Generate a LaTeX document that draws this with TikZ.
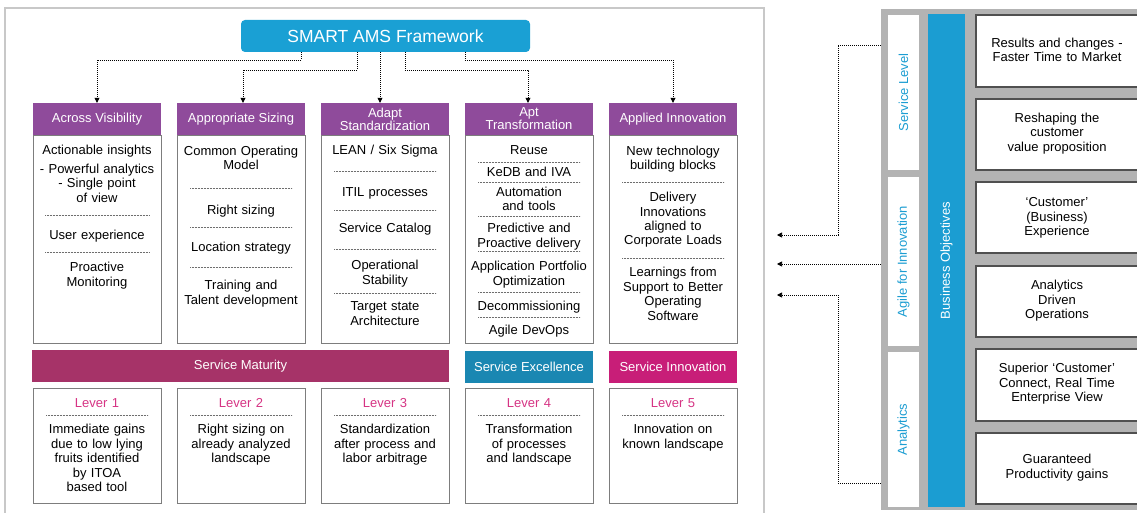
\documentclass[tikz,border=0pt]{standalone}
\usepackage{fontspec}
\setmainfont{Liberation Sans}
\usetikzlibrary{arrows.meta}
\definecolor{titleblue}{RGB}{26,160,212}
\definecolor{purp}{RGB}{143,75,155}
\definecolor{matur}{RGB}{166,51,104}
\definecolor{excel}{RGB}{26,135,178}
\definecolor{innov}{RGB}{200,30,120}
\definecolor{levercol}{RGB}{214,52,132}
\definecolor{panelgray}{RGB}{179,179,179}
\definecolor{objblue}{RGB}{27,157,210}
\definecolor{boxgray}{RGB}{125,125,125}
\definecolor{darkbox}{RGB}{80,80,80}
\definecolor{framegray}{RGB}{200,200,200}
\definecolor{sepgray}{RGB}{110,110,110}
\newcommand\fbody{\fontsize{13}{14.5}\selectfont}
\newcommand\ftitle{\fontsize{17.5}{20}\selectfont}
\begin{document}
\begin{tikzpicture}[x=1pt,y=-1pt,
  colbody/.style={draw=boxgray, line width=0.8pt, fill=white, inner sep=0, minimum width=128pt, minimum height=208pt},
  colhead/.style={fill=purp, text=white, font=\fbody, inner sep=0, minimum width=128pt, minimum height=32pt, align=center},
  bar/.style={text=white, font=\fbody, inner sep=0, minimum height=32pt},
  leverbox/.style={draw=boxgray, line width=0.8pt, fill=white, inner sep=0, minimum width=128pt, minimum height=115pt},
  txt/.style={anchor=base, text width=150pt, align=center, inner sep=0, font=\fbody},
  levertitle/.style={txt, text=levercol},
  sep/.style={draw=sepgray, line width=0.7pt, dash pattern=on 0.7pt off 0.8pt},
  conn/.style={line width=0.7pt, dash pattern=on 1pt off 1pt, -{Triangle[length=5pt,width=5pt]}},
  rbox/.style={draw=darkbox, line width=1.2pt, fill=white, inner sep=0, minimum width=169pt},
  sidelabel/.style={fill=white, inner sep=0, minimum width=31pt},
  rotlabel/.style={rotate=90, text=objblue, font=\fbody, inner sep=0}
]
\useasboundingbox (0,0) rectangle (1137,513);
\fill[white] (0,0) rectangle (1137,513);
% left frame
\draw[framegray, line width=1.5pt] (5,530) -- (5,8) -- (764,8) -- (764,530);

% title
\node[fill=titleblue, rounded corners=4pt, minimum width=289pt, minimum height=32pt, inner sep=0, text=white, font=\ftitle] (title) at (385.5,36) {SMART AMS Framework};

% column bodies and headers
\node[colbody] (b1) at (97,239) {};
\node[colbody] (b2) at (241,239) {};
\node[colbody] (b3) at (385,239) {};
\node[colbody] (b4) at (529,239) {};
\node[colbody] (b5) at (673,239) {};
\node[colhead] (h1) at (97,119) {Across Visibility};
\node[colhead] (h2) at (241,119) {Appropriate Sizing};
\node[colhead] (h3) at (385,119) {Adapt\\[-1.5pt]Standardization};
\node[colhead] (h4) at (529,119) {Apt\\[-1.5pt]Transformation};
\node[colhead] (h5) at (673,119) {Applied Innovation};

% connectors from title
\draw[conn] ([xshift=-84.5pt]title.south) -- ++(0,8) -| (h1.north);
\draw[conn] ([xshift=-28.5pt]title.south) -- ++(0,18) -| ([xshift=2pt]h2.north);
\draw[conn] ([xshift=-5.5pt]title.south) -- ([xshift=-5.5pt]title.south |- h3.north);
\draw[conn] ([xshift=19.5pt]title.south) -- ++(0,18) -| ([xshift=-1pt]h4.north);
\draw[conn] ([xshift=79.5pt]title.south) -- ++(0,8) -| (h5.north);

% column 1 text
\node[txt] (t11) at (97,154.5) {Actionable insights};
\node[txt] (t12) at (97,173.5) {- Powerful analytics\\- Single point\\of view};
\draw[sep] (45,215) -- (149,215);
\node[txt] (t13) at (97,239.5) {User experience};
\draw[sep] (45,252) -- (149,252);
\node[txt] (t14) at (97,271.5) {Proactive\\Monitoring};

% column 2 text
\node[txt] (t21) at (241,155.5) {Common Operating\\Model};
\draw[sep] (190,188) -- (292,188);
\node[txt] (t22) at (241,214.5) {Right sizing};
\draw[sep] (190,227) -- (292,227);
\node[txt] (t23) at (241,251.5) {Location strategy};
\draw[sep] (190,267) -- (292,267);
\node[txt] (t24) at (241,289.5) {Training and\\Talent development};

% column 3 text
\node[txt] (t31) at (385,154.5) {LEAN / Six Sigma};
\draw[sep] (334,171) -- (436,171);
\node[txt] (t32) at (385,196.5) {ITIL processes};
\draw[sep] (334,210) -- (436,210);
\node[txt] (t33) at (385,232.5) {Service Catalog};
\draw[sep] (334,249) -- (436,249);
\node[txt] (t34) at (385,269.5) {Operational\\Stability};
\draw[sep] (334,293) -- (436,293);
\node[txt] (t35) at (385,310.5) {Target state\\Architecture};

% column 4 text
\node[txt] (t41) at (529,154.5) {Reuse};
\draw[sep] (478,162) -- (580,162);
\node[txt] (t42) at (529,176.5) {KeDB and IVA};
\draw[sep] (478,182) -- (580,182);
\node[txt] (t43) at (529,196.5) {Automation\\and tools};
\draw[sep] (478,216) -- (580,216);
\node[txt] (t44) at (529,232.5) {Predictive and\\Proactive delivery};
\draw[sep] (478,251) -- (580,251);
\node[txt] (t45) at (529,270.5) {Application Portfolio\\Optimization};
\draw[sep] (478,292) -- (580,292);
\node[txt] (t46) at (529,310.5) {Decommissioning};
\draw[sep] (478,317) -- (580,317);
\node[txt] (t47) at (529,334.5) {Agile DevOps};

% column 5 text
\node[txt] (t51) at (673,155.5) {New technology\\building blocks};
\draw[sep] (622,182) -- (724,182);
\node[txt] (t52) at (673,201.5) {Delivery\\Innovations\\aligned to\\Corporate Loads};
\draw[sep] (622,258) -- (724,258);
\node[txt] (t53) at (673,276.5) {Learnings from\\Support to Better\\Operating\\Software};

% service bars
\node[bar, fill=matur, minimum width=417pt] (smat) at (240.5,366) {Service Maturity};
\node[bar, fill=excel, minimum width=128pt] (sexc) at (529,367) {Service Excellence};
\node[bar, fill=innov, minimum width=128pt] (sinn) at (673,367) {Service Innovation};

% levers
\node[leverbox] (l1) at (97,445.5) {};
\node[leverbox] (l2) at (241,445.5) {};
\node[leverbox] (l3) at (385,445.5) {};
\node[leverbox] (l4) at (529,445.5) {};
\node[leverbox] (l5) at (673,445.5) {};
\node[levertitle] (lt1) at (97,407.5) {Lever 1};
\node[levertitle] (lt2) at (241,407.5) {Lever 2};
\node[levertitle] (lt3) at (385,407.5) {Lever 3};
\node[levertitle] (lt4) at (529,407.5) {Lever 4};
\node[levertitle] (lt5) at (673,407.5) {Lever 5};
\draw[sep] (46,415) -- (148,415);
\draw[sep] (190,415) -- (292,415);
\draw[sep] (334,415) -- (436,415);
\draw[sep] (478,415) -- (580,415);
\draw[sep] (622,415) -- (724,415);
\node[txt] (lb1) at (97,433.5) {Immediate gains\\due to low lying\\fruits identified\\by ITOA\\based tool};
\node[txt] (lb2) at (241,433.5) {Right sizing on\\already analyzed\\landscape};
\node[txt] (lb3) at (385,433.5) {Standardization\\after process and\\labor arbitrage};
\node[txt] (lb4) at (529,433.5) {Transformation\\of processes\\and landscape};
\node[txt] (lb5) at (673,433.5) {Innovation on\\known landscape};

% right panel
\node[fill=panelgray, inner sep=0, minimum width=264pt, minimum height=501pt] (panel) at (1013,259.5) {};
\node[sidelabel, minimum height=155pt] (SL) at (903.5,92.5) {};
\node[sidelabel, minimum height=169pt] (AI) at (903.5,261.5) {};
\node[sidelabel, minimum height=155pt] (AN) at (903.5,429.5) {};
\node[rotlabel] (SLt) at (SL.center) {Service Level};
\node[rotlabel] (AIt) at (AI.center) {Agile for Innovation};
\node[rotlabel] (ANt) at (AN.center) {Analytics};
\node[fill=objblue, inner sep=0, minimum width=37pt, minimum height=493pt] (BO) at (946.5,260.5) {};
\node[rotate=90, text=white, font=\fbody, inner sep=0] (BOt) at (BO.center) {Business Objectives};

\node[rbox, minimum height=72pt] (r1) at (1060.5,51) {};
\node[rbox, minimum height=71pt] (r2) at (1060.5,134.5) {};
\node[rbox, minimum height=71pt] (r3) at (1060.5,217.5) {};
\node[rbox, minimum height=71pt] (r4) at (1060.5,301.5) {};
\node[rbox, minimum height=72pt] (r5) at (1060.5,385) {};
\node[rbox, minimum height=71pt] (r6) at (1060.5,468.5) {};
\node[txt] (rt1) at (1057,47.5) {Results and changes -\\Faster Time to Market};
\node[txt] (rt2) at (1057,122.5) {Reshaping the\\customer\\value proposition};
\node[txt] (rt3) at (1057,206.5) {‘Customer’\\(Business)\\Experience};
\node[txt] (rt4) at (1057,289.5) {Analytics\\Driven\\Operations};
\node[txt] (rt5) at (1057,372.5) {Superior ‘Customer’\\Connect, Real Time\\Enterprise View};
\node[txt] (rt6) at (1057,463.5) {Guaranteed\\Productivity gains};

% right connectors
\coordinate (k1) at (838,45);
\coordinate (e1) at (777,235);
\coordinate (e2) at (777,264);
\coordinate (k3) at (838,483);
\coordinate (e3) at (777,295);
\draw[conn] (panel.west |- k1) -- (k1) |- (e1);
\draw[conn] (panel.west |- e2) -- (e2);
\draw[conn] (panel.west |- k3) -- (k3) |- (e3);
\end{tikzpicture}
\end{document}
